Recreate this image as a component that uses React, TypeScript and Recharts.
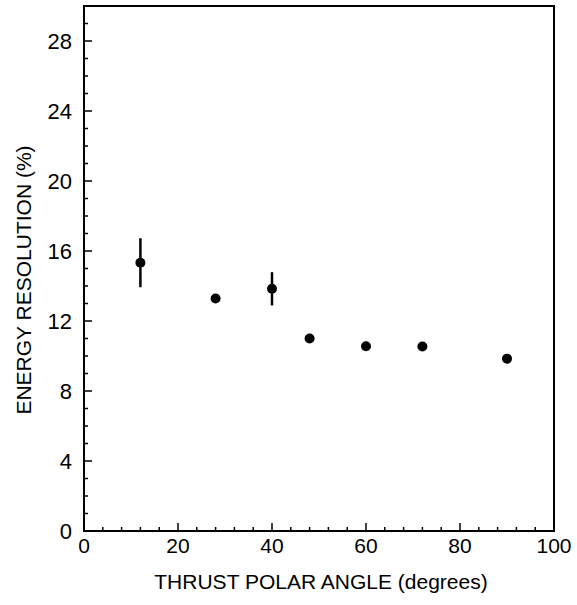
import React from 'react';
import {
    ScatterChart,
    Scatter,
    XAxis,
    YAxis,
    ErrorBar,
    Label,
    ReferenceArea
} from 'recharts';

const angles = [12, 28, 40, 48, 60, 72, 90];
const resolution = [15.33, 13.29, 13.84, 11.0, 10.56, 10.54, 9.85];
const errors = [1.4, 0.25, 0.95, 0.15, 0.12, 0.15, 0.1];

const xTicks = [0, 4, 8, 12, 16, 20, 24, 28, 32, 36, 40, 44, 48, 52, 56, 60, 64, 68, 72, 76, 80, 84, 88, 92, 96, 100];
const yTicks = Array.from({ length: 31 }, (_, i) => i);
const xLabels = [0, 20, 40, 60, 80, 100];
const yLabels = [0, 4, 8, 12, 16, 20, 24, 28];

const FONT = '"Liberation Sans", Arial, sans-serif';
const INK = '#000';

const data = angles.map((a, i) => ({ angle: a, res: resolution[i], err: errors[i] }));

function XTick(props: any) {
    const { x, y, payload } = props;
    const major = xLabels.includes(payload.value);
    return (
        <g>
            <line x1={x} x2={x} y1={y} y2={y - (major ? 8 : 4)} stroke={INK} strokeWidth={1.5} />
            {major && (
                <text x={x} y={y + 22} textAnchor="middle" fontSize={21} fontFamily={FONT} fill={INK}>
                    {payload.value}
                </text>
            )}
        </g>
    );
}

function YTick(props: any) {
    const { x, y, payload } = props;
    const major = yLabels.includes(payload.value);
    return (
        <g>
            <line x1={x} x2={x + (major ? 8 : 4)} y1={y} y2={y} stroke={INK} strokeWidth={1.5} />
            {major && (
                <text x={x - 12} y={y + 8} textAnchor="end" fontSize={22} fontFamily={FONT} fill={INK}>
                    {payload.value}
                </text>
            )}
        </g>
    );
}

export default function App() {
    return (
        <div style={{ position: 'absolute', left: 0, top: 0, background: '#fff' }}>
            <ScatterChart
                width={577}
                height={605}
                margin={{ top: 6, right: 23, bottom: 44, left: 24 }}
            >
                <XAxis
                    type="number"
                    dataKey="angle"
                    domain={[0, 100]}
                    ticks={xTicks}
                    interval={0}
                    tick={<XTick />}
                    tickLine={false}
                    tickSize={0}
                    tickMargin={0}
                    height={30}
                    axisLine={{ stroke: INK, strokeWidth: 2 }}
                >
                    <Label
                        content={() => (
                            <text x={321} y={589} textAnchor="middle" fontSize={21} fontFamily={FONT} fill={INK}>
                                THRUST POLAR ANGLE (degrees)
                            </text>
                        )}
                    />
                </XAxis>
                <YAxis
                    type="number"
                    dataKey="res"
                    domain={[0, 30]}
                    ticks={yTicks}
                    interval={0}
                    tick={<YTick />}
                    tickLine={false}
                    tickSize={0}
                    tickMargin={0}
                    width={60}
                    axisLine={{ stroke: INK, strokeWidth: 2 }}
                >
                    <Label
                        content={() => (
                            <text
                                x={0}
                                y={0}
                                transform="translate(31 280) rotate(-90)"
                                textAnchor="middle"
                                fontSize={21}
                                fontFamily={FONT}
                                fill={INK}
                            >
                                ENERGY RESOLUTION (%)
                            </text>
                        )}
                    />
                </YAxis>
                <ReferenceArea x1={0} x2={100} y1={0} y2={30} fill="none" stroke={INK} strokeWidth={2} />
                <Scatter
                    data={data}
                    fill={INK}
                    isAnimationActive={false}
                    shape={(p: any) => <circle cx={p.cx} cy={p.cy} r={5} fill={INK} />}
                >
                    <ErrorBar dataKey="err" direction="y" width={0} stroke={INK} strokeWidth={2.5} />
                </Scatter>
            </ScatterChart>
        </div>
    );
}
